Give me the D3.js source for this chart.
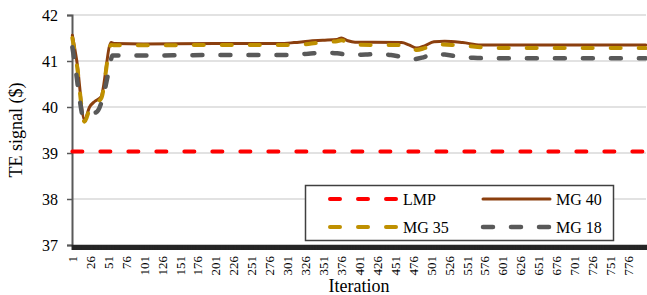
<!DOCTYPE html>
<html>
<head>
<meta charset="utf-8">
<script src="https://cdn.jsdelivr.net/npm/d3@7"></script>
<style>
  body { margin: 0; background: #fff; }
  svg text { font-family: "Liberation Serif", "Times New Roman", "DejaVu Serif", serif; }
</style>
</head>
<body>
<svg id="chart" width="647" height="295"></svg>
<script>
// series (iteration, value) pairs
const seriesNames = ["LMP", "MG 40", "MG 35", "MG 18"];
const nIter = 800;

const lmpIter = [1, 800];
const lmpVal = [39.03, 39.03];

const mg40Iter = [1, 7, 18, 25, 32, 41, 55, 60, 100, 200, 290, 310, 330, 350, 370, 376, 385, 395, 420, 460, 470, 481, 492, 505, 520, 545, 570, 600, 700, 800];
const mg40Val  = [41.56, 41.02, 39.72, 40.0, 40.12, 40.22, 41.40, 41.38, 41.37, 41.38, 41.38, 41.40, 41.43, 41.45, 41.47, 41.50, 41.44, 41.41, 41.41, 41.40, 41.35, 41.28, 41.33, 41.42, 41.43, 41.40, 41.35, 41.35, 41.35, 41.35];

const mg35Iter = [1, 7, 18, 25, 32, 41, 55, 60, 100, 200, 300, 330, 350, 370, 376, 390, 420, 460, 470, 481, 492, 508, 530, 550, 570, 600, 800];
const mg35Val  = [41.5, 40.95, 39.68, 39.95, 40.08, 40.18, 41.35, 41.34, 41.34, 41.35, 41.35, 41.37, 41.41, 41.43, 41.45, 41.36, 41.35, 41.35, 41.32, 41.24, 41.28, 41.36, 41.35, 41.33, 41.30, 41.28, 41.28];

const mg18Iter = [1, 5, 10, 16, 22, 30, 37, 45, 52, 57, 100, 200, 300, 330, 353, 370, 388, 410, 426, 445, 465, 476, 490, 504, 520, 541, 560, 580, 650, 800];
const mg18Val  = [41.3, 40.9, 40.3, 39.8, 39.78, 39.85, 39.93, 40.3, 40.8, 41.12, 41.12, 41.13, 41.13, 41.16, 41.18, 41.17, 41.13, 41.14, 41.15, 41.13, 41.07, 41.04, 41.08, 41.15, 41.14, 41.09, 41.07, 41.06, 41.06, 41.06];

const yTicks = [37, 38, 39, 40, 41, 42];
const xTickLabels = d3.range(1, nIter, 25); // 1, 26, ... 776

const serif = "Liberation Serif, Times New Roman, DejaVu Serif, serif";
const svg = d3.select("#chart");
const mLeft = 72, mRight = 646, mTop = 15, mBottom = 245;

const x = d3.scaleLinear().domain([0.5, nIter + 0.5]).range([mLeft, mRight]);
const y = d3.scaleLinear().domain([37, 42]).range([mBottom, mTop]);

// gridlines
svg.append("g")
  .selectAll("line")
  .data(yTicks.filter(d => d > 37))
  .enter()
  .append("line")
    .attr("x1", mLeft).attr("x2", mRight)
    .attr("y1", d => y(d)).attr("y2", d => y(d))
    .attr("stroke", "#d9d9d9")
    .attr("stroke-width", 1.5);

// y axis
const yAxis = svg.append("g")
  .attr("transform", `translate(${mLeft},0)`)
  .call(d3.axisLeft(y).tickValues(yTicks).tickSize(5).tickFormat(d3.format("d")));
yAxis.attr("font-family", serif);
yAxis.select(".domain").attr("stroke", "#595959").attr("stroke-width", 2);
yAxis.selectAll(".tick line").attr("stroke", "#595959").attr("stroke-width", 1.5);
yAxis.selectAll("text")
  .attr("font-size", 16)
  .attr("fill", "#000")
  .attr("x", -14);

// x axis: one tick per category boundary, they merge into a dark band
const xAxis = svg.append("g")
  .attr("transform", `translate(0,${mBottom})`)
  .call(d3.axisBottom(x).tickValues(d3.range(0.5, nIter + 1, 1)).tickSize(5).tickFormat(""));
xAxis.select(".domain").attr("stroke", "#262626").attr("stroke-width", 1.5);
xAxis.selectAll(".tick line").attr("stroke", "#262626").attr("stroke-width", 1.6);

svg.append("g")
  .attr("font-family", serif)
  .selectAll("text")
  .data(xTickLabels)
  .enter()
  .append("text")
    .attr("transform", d => `translate(${x(d)},256) rotate(-90)`)
    .attr("text-anchor", "end")
    .attr("dy", "0.35em")
    .attr("font-size", 13)
    .attr("fill", "#000")
    .text(d => d);

// axis titles
svg.append("text")
  .attr("x", (mLeft + mRight) / 2)
  .attr("y", 292)
  .attr("text-anchor", "middle")
  .attr("font-family", serif)
  .attr("font-size", 18)
  .text("Iteration");

svg.append("text")
  .attr("transform", `translate(22,${(mTop + mBottom) / 2}) rotate(-90)`)
  .attr("text-anchor", "middle")
  .attr("font-family", serif)
  .attr("font-size", 18)
  .text("TE signal ($)");

// lines
const series = [
  { name: "LMP",   iter: lmpIter,  val: lmpVal,  color: "#ff0000", width: 4,   dash: "10,18" },
  { name: "MG 40", iter: mg40Iter, val: mg40Val, color: "#8b3f0e", width: 3,   dash: null },
  { name: "MG 35", iter: mg35Iter, val: mg35Val, color: "#bf9000", width: 4,   dash: "10,18" },
  { name: "MG 18", iter: mg18Iter, val: mg18Val, color: "#595959", width: 4.5, dash: "10,18" }
];

const line = d3.line()
  .x(d => x(d[0]))
  .y(d => y(d[1]))
  .curve(d3.curveMonotoneX);

svg.append("g")
  .selectAll("path")
  .data(series)
  .enter()
  .append("path")
    .attr("d", s => line(s.iter.map((it, i) => [it, s.val[i]])))
    .attr("fill", "none")
    .attr("stroke", s => s.color)
    .attr("stroke-width", s => s.width)
    .attr("stroke-dasharray", s => s.dash)
    .attr("stroke-linecap", "round")
    .attr("stroke-linejoin", "round");

// legend
const lg = svg.append("g").attr("font-family", serif);
lg.append("rect")
  .attr("x", 305.5).attr("y", 185.5)
  .attr("width", 308).attr("height", 55)
  .attr("fill", "#fff")
  .attr("stroke", "#404040")
  .attr("stroke-width", 1.5);

const legendPos = [[327, 199], [480, 199], [327, 227], [480, 227]];
const items = lg.selectAll("g.item")
  .data(series)
  .enter()
  .append("g")
    .attr("transform", (d, i) => `translate(${legendPos[i][0]},${legendPos[i][1]})`);

items.append("line")
  .attr("x1", 3).attr("x2", 70)
  .attr("stroke", d => d.color)
  .attr("stroke-width", d => d.width)
  .attr("stroke-dasharray", d => d.dash)
  .attr("stroke-linecap", "round");

items.append("text")
  .attr("x", 76)
  .attr("dy", "0.35em")
  .attr("font-size", 16)
  .text(d => d.name);
</script>
</body>
</html>
